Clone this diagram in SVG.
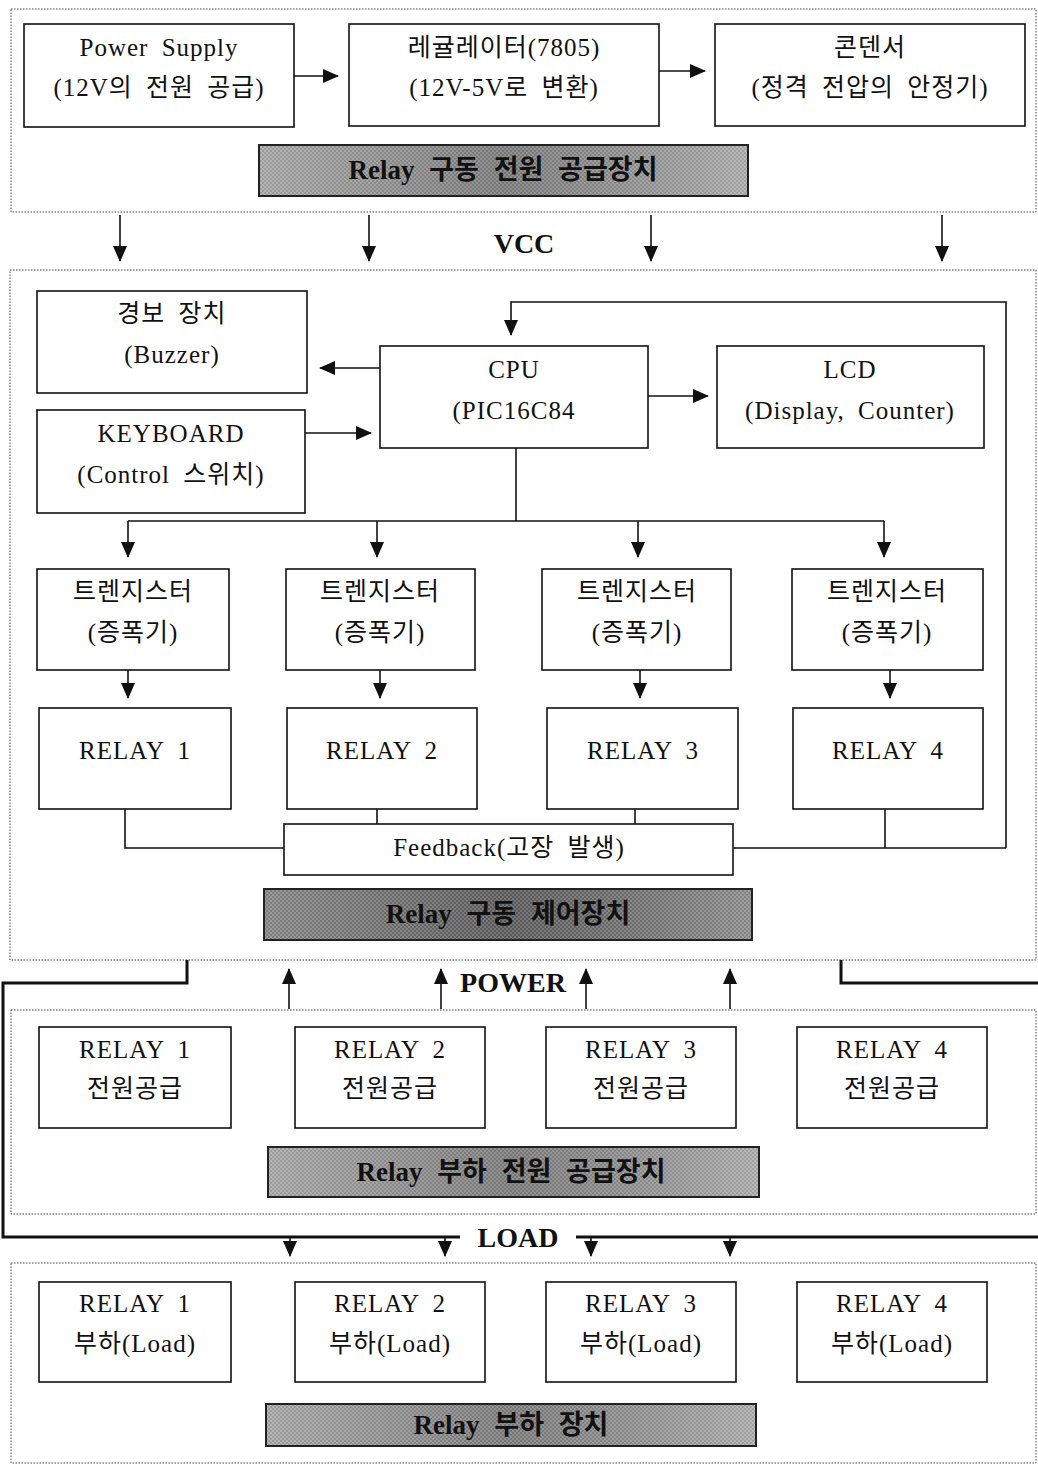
<svg xmlns="http://www.w3.org/2000/svg" width="1038" height="1464" viewBox="0 0 1038 1464">
<style>
.cont{fill:none;stroke:#444;stroke-width:1;stroke-dasharray:1.5 1.5}
.box{fill:#fff;stroke:#111;stroke-width:1.6}
.t{font-family:"Liberation Serif","Noto Sans CJK KR",serif;font-size:25px;fill:#111;text-anchor:middle;letter-spacing:1px;word-spacing:6px}
.lb{font-family:"Liberation Serif","Noto Sans CJK KR",serif;font-size:27px;font-weight:bold;fill:#111;text-anchor:middle;word-spacing:8px}
.lb2{font-family:"Liberation Serif","Noto Sans CJK KR",serif;font-size:28px;font-weight:bold;fill:#111;text-anchor:middle}
.bar{stroke:#222;stroke-width:2}
.ln{fill:none;stroke:#111;stroke-width:1.6}
.thick{fill:none;stroke:#111;stroke-width:3}
</style>
<defs>
<marker id="ah" viewBox="0 0 16 14" refX="15" refY="7" markerWidth="16" markerHeight="14" markerUnits="userSpaceOnUse" orient="auto">
<path d="M0,0 L16,7 L0,14 Z" fill="#111"/>
</marker>
<pattern id="tex" width="4" height="4" patternUnits="userSpaceOnUse">
<rect width="4" height="4" fill="#a8a8a8"/>
<rect width="2" height="2" fill="#8a8a8a"/>
<rect x="2" y="2" width="2" height="2" fill="#8a8a8a"/>
</pattern>
<pattern id="tex2" width="4" height="4" patternUnits="userSpaceOnUse">
<rect width="4" height="4" fill="#8a8a8a"/>
<rect width="2" height="2" fill="#666"/>
<rect x="2" y="2" width="2" height="2" fill="#666"/>
</pattern>
<linearGradient id="shade" x1="0" y1="0" x2="1" y2="0">
<stop offset="0" stop-color="#fff" stop-opacity="0.15"/>
<stop offset="0.5" stop-color="#000" stop-opacity="0.15"/>
<stop offset="1" stop-color="#fff" stop-opacity="0.2"/>
</linearGradient>
</defs>
<rect width="1038" height="1464" fill="#fff"/>

<!-- containers -->
<g id="containers">
<rect class="cont" x="11" y="9" width="1025" height="203"/>
<rect class="cont" x="10" y="270" width="1026" height="690"/>
<rect class="cont" x="11" y="1010" width="1025" height="204"/>
<rect class="cont" x="11" y="1263" width="1025" height="200"/>
</g>

<!-- top section -->
<g id="power-supply"><rect class="box" x="24" y="24" width="270" height="103"/>
<text class="t" x="159" y="56">Power Supply</text><text class="t" x="159" y="96">(12V의 전원 공급)</text></g>
<g id="regulator"><rect class="box" x="349" y="24" width="310" height="102"/>
<text class="t" x="504" y="56">레귤레이터(7805)</text><text class="t" x="504" y="96">(12V-5V로 변환)</text></g>
<g id="condenser"><rect class="box" x="715" y="24" width="310" height="102"/>
<text class="t" x="870" y="56">콘덴서</text><text class="t" x="870" y="96">(정격 전압의 안정기)</text></g>
<g id="label-supply"><rect class="bar" x="259" y="145" width="489" height="51" fill="url(#tex)"/><rect x="260" y="146" width="487" height="49" fill="url(#shade)"/>
<text class="lb" x="503" y="179">Relay 구동 전원 공급장치</text></g>

<g id="vcc-label"><text class="lb2" x="524" y="253">VCC</text></g>

<!-- control section -->
<g id="buzzer"><rect class="box" x="37" y="291" width="270" height="102"/>
<text class="t" x="172" y="322">경보 장치</text><text class="t" x="172" y="363">(Buzzer)</text></g>
<g id="keyboard"><rect class="box" x="37" y="410" width="268" height="103"/>
<text class="t" x="171" y="442">KEYBOARD</text><text class="t" x="171" y="483">(Control 스위치)</text></g>
<g id="cpu"><rect class="box" x="380" y="346" width="268" height="102"/>
<text class="t" x="514" y="378">CPU</text><text class="t" x="514" y="419">(PIC16C84</text></g>
<g id="lcd"><rect class="box" x="717" y="346" width="267" height="102"/>
<text class="t" x="850" y="378">LCD</text><text class="t" x="850" y="419">(Display, Counter)</text></g>

<g id="tr1"><rect class="box" x="37" y="569" width="192" height="101"/><text class="t" x="133" y="600">트렌지스터</text><text class="t" x="133" y="641">(증폭기)</text></g>
<g id="tr2"><rect class="box" x="286" y="569" width="189" height="101"/><text class="t" x="380" y="600">트렌지스터</text><text class="t" x="380" y="641">(증폭기)</text></g>
<g id="tr3"><rect class="box" x="542" y="569" width="189" height="101"/><text class="t" x="637" y="600">트렌지스터</text><text class="t" x="637" y="641">(증폭기)</text></g>
<g id="tr4"><rect class="box" x="792" y="569" width="191" height="101"/><text class="t" x="887" y="600">트렌지스터</text><text class="t" x="887" y="641">(증폭기)</text></g>

<g id="relay1"><rect class="box" x="39" y="708" width="192" height="101"/><text class="t" x="135" y="759">RELAY 1</text></g>
<g id="relay2"><rect class="box" x="287" y="708" width="190" height="101"/><text class="t" x="382" y="759">RELAY 2</text></g>
<g id="relay3"><rect class="box" x="547" y="708" width="191" height="101"/><text class="t" x="643" y="759">RELAY 3</text></g>
<g id="relay4"><rect class="box" x="793" y="708" width="190" height="101"/><text class="t" x="888" y="759">RELAY 4</text></g>

<g id="feedback"><rect class="box" x="284" y="824" width="449" height="51"/><text class="t" x="509" y="856">Feedback(고장 발생)</text></g>
<g id="label-control"><rect class="bar" x="264" y="889" width="488" height="51" fill="url(#tex2)"/><rect x="265" y="890" width="486" height="49" fill="url(#shade)"/>
<text class="lb" x="508" y="923">Relay 구동 제어장치</text></g>

<g id="power-label"><text class="lb2" x="513" y="992">POWER</text></g>

<!-- relay power supply section -->
<g id="rp1"><rect class="box" x="39" y="1027" width="192" height="101"/><text class="t" x="135" y="1058">RELAY 1</text><text class="t" x="135" y="1097">전원공급</text></g>
<g id="rp2"><rect class="box" x="295" y="1027" width="190" height="101"/><text class="t" x="390" y="1058">RELAY 2</text><text class="t" x="390" y="1097">전원공급</text></g>
<g id="rp3"><rect class="box" x="546" y="1027" width="190" height="101"/><text class="t" x="641" y="1058">RELAY 3</text><text class="t" x="641" y="1097">전원공급</text></g>
<g id="rp4"><rect class="box" x="797" y="1027" width="190" height="101"/><text class="t" x="892" y="1058">RELAY 4</text><text class="t" x="892" y="1097">전원공급</text></g>
<g id="label-loadpower"><rect class="bar" x="268" y="1147" width="491" height="50" fill="url(#tex)"/><rect x="269" y="1148" width="489" height="48" fill="url(#shade)"/>
<text class="lb" x="511" y="1181">Relay 부하 전원 공급장치</text></g>

<g id="load-label"><text class="lb2" x="518" y="1247">LOAD</text></g>

<!-- load section -->
<g id="ld1"><rect class="box" x="39" y="1282" width="192" height="100"/><text class="t" x="135" y="1312">RELAY 1</text><text class="t" x="135" y="1352">부하(Load)</text></g>
<g id="ld2"><rect class="box" x="295" y="1282" width="190" height="100"/><text class="t" x="390" y="1312">RELAY 2</text><text class="t" x="390" y="1352">부하(Load)</text></g>
<g id="ld3"><rect class="box" x="546" y="1282" width="190" height="100"/><text class="t" x="641" y="1312">RELAY 3</text><text class="t" x="641" y="1352">부하(Load)</text></g>
<g id="ld4"><rect class="box" x="797" y="1282" width="190" height="100"/><text class="t" x="892" y="1312">RELAY 4</text><text class="t" x="892" y="1352">부하(Load)</text></g>
<g id="label-load"><rect class="bar" x="266" y="1404" width="490" height="42" fill="url(#tex)"/><rect x="267" y="1405" width="488" height="40" fill="url(#shade)"/>
<text class="lb" x="511" y="1434">Relay 부하 장치</text></g>

<!-- connectors -->
<g id="connectors">
<line class="ln" x1="294" y1="76" x2="338" y2="76" marker-end="url(#ah)"/>
<line class="ln" x1="659" y1="71" x2="705" y2="71" marker-end="url(#ah)"/>
<line class="ln" x1="120" y1="215" x2="120" y2="261" marker-end="url(#ah)"/>
<line class="ln" x1="369" y1="215" x2="369" y2="261" marker-end="url(#ah)"/>
<line class="ln" x1="651" y1="215" x2="651" y2="261" marker-end="url(#ah)"/>
<line class="ln" x1="942" y1="215" x2="942" y2="261" marker-end="url(#ah)"/>

<line class="ln" x1="380" y1="368" x2="320" y2="368" marker-end="url(#ah)"/>
<line class="ln" x1="305" y1="433" x2="371" y2="433" marker-end="url(#ah)"/>
<line class="ln" x1="648" y1="396" x2="708" y2="396" marker-end="url(#ah)"/>
<polyline class="ln" points="1006,848 1006,302 511,302 511,335" marker-end="url(#ah)"/>

<polyline class="ln" points="516,448 516,521"/>
<line class="ln" x1="128" y1="521" x2="884" y2="521"/>
<line class="ln" x1="128" y1="521" x2="128" y2="557" marker-end="url(#ah)"/>
<line class="ln" x1="377" y1="521" x2="377" y2="557" marker-end="url(#ah)"/>
<line class="ln" x1="638" y1="521" x2="638" y2="557" marker-end="url(#ah)"/>
<line class="ln" x1="884" y1="521" x2="884" y2="557" marker-end="url(#ah)"/>

<line class="ln" x1="128" y1="670" x2="128" y2="698" marker-end="url(#ah)"/>
<line class="ln" x1="380" y1="670" x2="380" y2="698" marker-end="url(#ah)"/>
<line class="ln" x1="640" y1="670" x2="640" y2="698" marker-end="url(#ah)"/>
<line class="ln" x1="890" y1="670" x2="890" y2="698" marker-end="url(#ah)"/>

<polyline class="ln" points="125,809 125,848 284,848"/>
<line class="ln" x1="377" y1="809" x2="377" y2="824"/>
<line class="ln" x1="635" y1="809" x2="635" y2="824"/>
<polyline class="ln" points="885,809 885,848"/>
<line class="ln" x1="733" y1="848" x2="1006" y2="848"/>

<polyline class="thick" points="187,960 187,983 3,983 3,1237 460,1237"/>
<polyline class="thick" points="841,960 841,983 1038,983"/>
<line class="thick" x1="576" y1="1237" x2="1038" y2="1237"/>

<line class="ln" x1="289" y1="1009" x2="289" y2="969" marker-end="url(#ah)"/>
<line class="ln" x1="441" y1="1009" x2="441" y2="969" marker-end="url(#ah)"/>
<line class="ln" x1="586" y1="1009" x2="586" y2="969" marker-end="url(#ah)"/>
<line class="ln" x1="730" y1="1009" x2="730" y2="969" marker-end="url(#ah)"/>

<line class="ln" x1="290" y1="1238" x2="290" y2="1256" marker-end="url(#ah)"/>
<line class="ln" x1="445" y1="1238" x2="445" y2="1256" marker-end="url(#ah)"/>
<line class="ln" x1="591" y1="1238" x2="591" y2="1256" marker-end="url(#ah)"/>
<line class="ln" x1="730" y1="1238" x2="730" y2="1256" marker-end="url(#ah)"/>
</g>
</svg>
